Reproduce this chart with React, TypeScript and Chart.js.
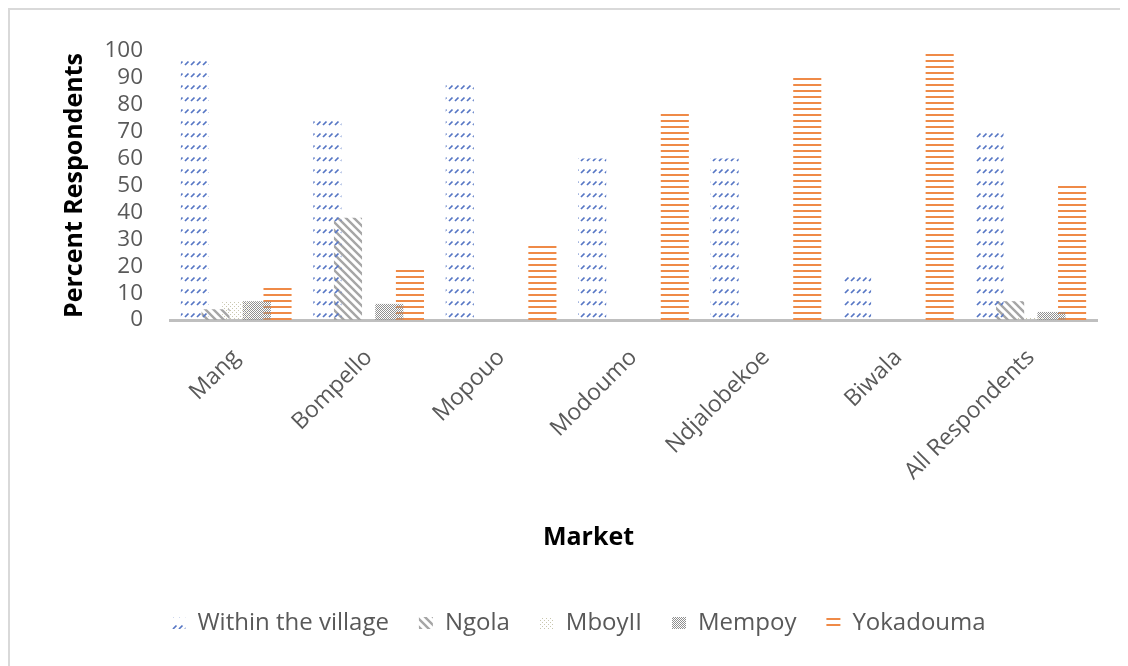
import React, { useEffect, useRef } from "react";
import { Chart, registerables } from "chart.js";

Chart.register(...registerables);

const categories = ["Mang", "Bompello", "Mopouo", "Modoumo", "Ndjalobekoe", "Biwala", "All Respondents"];
const withinVillage = [97, 75, 88, 60, 60, 18, 71];
const ngola = [4, 38, 0, 0, 0, 0, 7];
const mboyII = [7, 0, 0, 0, 0, 0, 1];
const mempoy = [7, 6, 0, 0, 0, 0, 3];
const yokadouma = [13, 19, 28, 78, 90, 100, 50];
const yTicks = [0, 10, 20, 30, 40, 50, 60, 70, 80, 90, 100];
const xTitle = "Market";
const yTitle = "Percent Respondents";

const FONT = "'Open Sans', 'Noto Sans', sans-serif";

function makePattern(w: number, h: number, draw: (c: CanvasRenderingContext2D) => void) {
  const cv = document.createElement("canvas");
  cv.width = w;
  cv.height = h;
  const c = cv.getContext("2d")!;
  draw(c);
  return c.createPattern(cv, "repeat") as CanvasPattern;
}

const xTitlePlugin = {
  id: "xTitleCentered",
  afterDraw(chart: any) {
    const { ctx, chartArea } = chart;
    const x = (chartArea.left + chartArea.right) / 2 - 45;
    const y = chartArea.bottom + 218;
    ctx.save();
    ctx.font = `bold 25px ${FONT}`;
    ctx.fillStyle = "#000000";
    ctx.textAlign = "center";
    ctx.textBaseline = "middle";
    ctx.fillText(xTitle, x, y);
    ctx.restore();
  },
};

export default function App() {
  const ref = useRef<HTMLCanvasElement | null>(null);
  useEffect(() => {
    const blue = makePattern(6, 12, (c) => {
      c.strokeStyle = "#5676C4";
      c.lineWidth = 1.7;
      c.beginPath();
      c.moveTo(1, 7);
      c.lineTo(4.5, 3.5);
      c.stroke();
    });
    const gray = makePattern(8, 8, (c) => {
      c.strokeStyle = "#A6A6A6";
      c.lineWidth = 2.4;
      c.beginPath();
      c.moveTo(-1, -1);
      c.lineTo(9, 9);
      c.moveTo(-1, 7);
      c.lineTo(1, 9);
      c.moveTo(7, -1);
      c.lineTo(9, 1);
      c.stroke();
    });
    const dots = makePattern(4, 4, (c) => {
      c.fillStyle = "#C9C7AE";
      c.fillRect(0, 0, 1, 1);
      c.fillRect(2, 2, 1, 1);
    });
    const checker = makePattern(2, 2, (c) => {
      c.fillStyle = "#8F8F8F";
      c.fillRect(0, 0, 1, 1);
      c.fillRect(1, 1, 1, 1);
    });
    const orange = makePattern(6, 6, (c) => {
      c.fillStyle = "#EF8A47";
      c.fillRect(0, 2, 6, 2);
    });

    const common = { barPercentage: 1.36, categoryPercentage: 0.78, borderWidth: 0, clip: false as any };
    const chart = new Chart(ref.current!, {
      type: "bar",
      data: {
        labels: categories,
        datasets: [
          { label: "Within the village", data: withinVillage, backgroundColor: blue, ...common },
          { label: "Ngola", data: ngola, backgroundColor: gray, ...common },
          { label: "MboyII", data: mboyII, backgroundColor: dots, ...common },
          { label: "Mempoy", data: mempoy, backgroundColor: checker, ...common },
          { label: "Yokadouma", data: yokadouma, backgroundColor: orange, ...common },
        ],
      },
      plugins: [xTitlePlugin],
      options: {
        animation: false,
        responsive: true,
        maintainAspectRatio: false,
        layout: { padding: { left: 50, right: 23, top: 41, bottom: 21 } },
        plugins: {
          tooltip: { enabled: false },
          legend: {
            position: "bottom",
            labels: {
              font: { family: FONT, size: 24 },
              color: "#595959",
              boxWidth: 14,
              boxHeight: 12,
              padding: 30,
            },
          },
        },
        scales: {
          x: {
            grid: { display: false },
            border: { display: true, color: "#BFBFBF", width: 3 },
            ticks: {
              font: { family: FONT, size: 23 },
              color: "#595959",
              minRotation: 45,
              maxRotation: 45,
              padding: 16,
              autoSkip: false,
            },
            afterFit: (axis: any) => {
              axis.height = 261;
            },
          },
          y: {
            min: 0,
            max: 100,
            grid: { display: false },
            border: { display: false },
            afterBuildTicks: (axis: any) => {
              axis.ticks = yTicks.map((v) => ({ value: v }));
            },
            ticks: {
              font: { family: FONT, size: 22.5 },
              color: "#595959",
              padding: 19,
              autoSkip: false,
            },
            title: {
              display: true,
              text: yTitle,
              font: { family: FONT, size: 25, weight: "bold" },
              color: "#000000",
              padding: { top: 0, bottom: 0 },
            },
            afterFit: (axis: any) => {
              axis.width = 110;
            },
          },
        },
      },
    });
    return () => chart.destroy();
  }, []);

  return (
    <div
      style={{
        width: 1112,
        height: 658,
        boxSizing: "border-box",
        borderTop: "2px solid #D9D9D9",
        borderLeft: "2px solid #D9D9D9",
        background: "#ffffff",
      }}
    >
      <div style={{ position: "relative", width: "100%", height: "100%" }}>
        <canvas ref={ref} />
      </div>
    </div>
  );
}
